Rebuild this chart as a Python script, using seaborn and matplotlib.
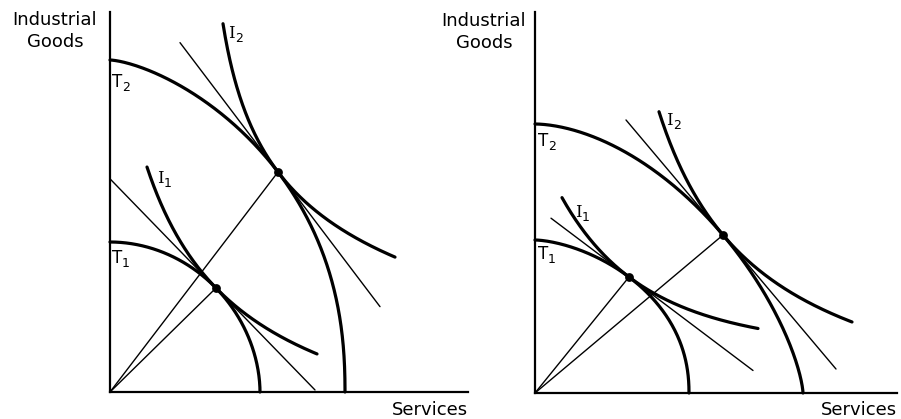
import numpy as np
import matplotlib
matplotlib.use("Agg")
import matplotlib.pyplot as plt
import seaborn as sns

# values read off the picture, in pixels measured from each panel's origin
# left panel
left_front_a = [150, 235]        # T1, T2 intercepts on the services axis
left_front_b = [150, 332]        # T1, T2 intercepts on the goods axis
left_tan_x = [106, 168]          # tangency points P1, P2
left_tan_y = [104, 220]
left_slope = [-1.03, -1.32]      # price line slopes at P1, P2
left_line_x0 = [0, 70]
left_line_x1 = [205, 270]
left_ind_top = [(37, 225), (113, 370)]   # I1, I2 upper ends
left_ind_end = [(207, 38), (285, 127)]   # I1, I2 lower ends

# right panel
right_front_a = [154, 268]
right_front_b = [153, 269]
right_tan_x = [94, 188]
right_tan_y = [116, 158]
right_slope = [-0.754, -1.186]
right_line_x0 = [16, 91]
right_line_x1 = [218, 301]
right_ind_top = [(27, 195), (124, 281)]
right_ind_end = [(223, 65), (317, 71)]

subs = ["1", "2"]

W, H = 901, 419


def frontier(a, b, px, py, slope):
    # (x/a)^p + (y/b)^q = 1, passing through P with the read slope
    u, v = px / a, py / b
    ps = np.linspace(1.05, 4, 800)
    U = u ** ps
    qs = np.log(1 - U) / np.log(v)
    sl = -(ps * U * py) / (qs * (1 - U) * px)
    p = ps[np.argmin(np.abs(sl - slope))]
    q = np.log(1 - u ** p) / np.log(v)
    t = np.linspace(0, np.pi / 2, 300)
    return a * np.sin(t) ** (2 / p), b * np.cos(t) ** (2 / q)


def indifference(px, py, slope, top, end):
    # y = e + K (x - d)^-n, through P with the read slope, fitted to both ends
    m = -slope
    ds = np.linspace(-700, top[0] - 2, 700)[:, None]
    ns = np.linspace(0.2, 5, 300)[None, :]
    X0 = px - ds
    K = m * X0 ** (ns + 1) / ns
    e = py - m * X0 / ns
    yt = e + K * (top[0] - ds) ** (-ns)
    yb = e + K * (end[0] - ds) ** (-ns)
    err = (yt - top[1]) ** 2 + (yb - end[1]) ** 2
    i, j = np.unravel_index(np.argmin(err), err.shape)
    d, n, k, ee = ds[i, 0], ns[0, j], K[i, j], e[i, j]
    x = np.linspace(top[0], end[0], 300)
    return x, ee + k * (x - d) ** (-n)


def panel(ax, fa, fb, tx, ty, sl, lx0, lx1, itop, iend):
    thick = dict(color="black", lw=2.3, sort=False, estimator=None, clip_on=False)
    thin = dict(color="black", lw=1.0, sort=False, estimator=None, clip_on=False)
    for k in range(2):
        x, y = frontier(fa[k], fb[k], tx[k], ty[k], sl[k])
        sns.lineplot(x=x, y=y, ax=ax, **thick)
        x, y = indifference(tx[k], ty[k], sl[k], itop[k], iend[k])
        sns.lineplot(x=x, y=y, ax=ax, **thick)
        lx = np.array([lx0[k], lx1[k]])
        sns.lineplot(x=lx, y=ty[k] + sl[k] * (lx - tx[k]), ax=ax, **thin)
        sns.lineplot(x=[0, tx[k]], y=[0, ty[k]], ax=ax, **thin)
    sns.scatterplot(x=tx, y=ty, ax=ax, color="black", s=40, zorder=5,
                    clip_on=False, linewidth=0)
    for s in ["top", "right"]:
        ax.spines[s].set_visible(False)
    for s in ["left", "bottom"]:
        ax.spines[s].set_linewidth(1.6)
        ax.spines[s].set_color("black")
    ax.set_xticks([])
    ax.set_yticks([])
    ax.set_xlabel("")
    ax.set_ylabel("")
    ax.set_facecolor("white")


sns.set_style("white")
plt.rcParams["font.family"] = ["DejaVu Sans"]
plt.rcParams["text.color"] = "black"

fig = plt.figure(figsize=(W / 100, H / 100), dpi=100)

# left panel: origin at pixel (110, 392)
ax1 = fig.add_axes([110 / W, (H - 392) / H, 358 / W, 380 / H])
ax1.set_xlim(0, 358)
ax1.set_ylim(0, 380)
panel(ax1, left_front_a, left_front_b, left_tan_x, left_tan_y, left_slope,
      left_line_x0, left_line_x1, left_ind_top, left_ind_end)

# right panel: origin at pixel (535, 393)
ax2 = fig.add_axes([535 / W, (H - 393) / H, 362 / W, 381 / H])
ax2.set_xlim(0, 362)
ax2.set_ylim(0, 381)
panel(ax2, right_front_a, right_front_b, right_tan_x, right_tan_y, right_slope,
      right_line_x0, right_line_x1, right_ind_top, right_ind_end)


def ftext(x, y, s, **kw):
    fig.text(x / W, 1 - y / H, s, **kw)


def curve_label(x, y, letter, sub, serif=False):
    fam = "DejaVu Serif" if serif else "DejaVu Sans"
    ftext(x, y, letter, ha="left", va="baseline", fontsize=12, family=fam)
    w = 7 if serif else 10
    ftext(x + w, y + 4, sub, ha="left", va="baseline", fontsize=9)


ftext(55, 31, "Industrial\nGoods", ha="center", va="center", fontsize=13,
      linespacing=1.3)
ftext(484, 32, "Industrial\nGoods", ha="center", va="center", fontsize=13,
      linespacing=1.3)
ftext(468, 410, "Services", ha="right", va="center", fontsize=13)
ftext(897, 410, "Services", ha="right", va="center", fontsize=13)

# curve labels
curve_label(112, 263, "T", subs[0])
curve_label(112, 87, "T", subs[1])
curve_label(157, 183, "I", subs[0], serif=True)
curve_label(228, 38, "I", subs[1], serif=True)
curve_label(538, 259, "T", subs[0])
curve_label(538, 146, "T", subs[1])
curve_label(575, 217, "I", subs[0], serif=True)
curve_label(666, 125, "I", subs[1], serif=True)

fig.savefig("out.png", dpi=100, facecolor="white")
